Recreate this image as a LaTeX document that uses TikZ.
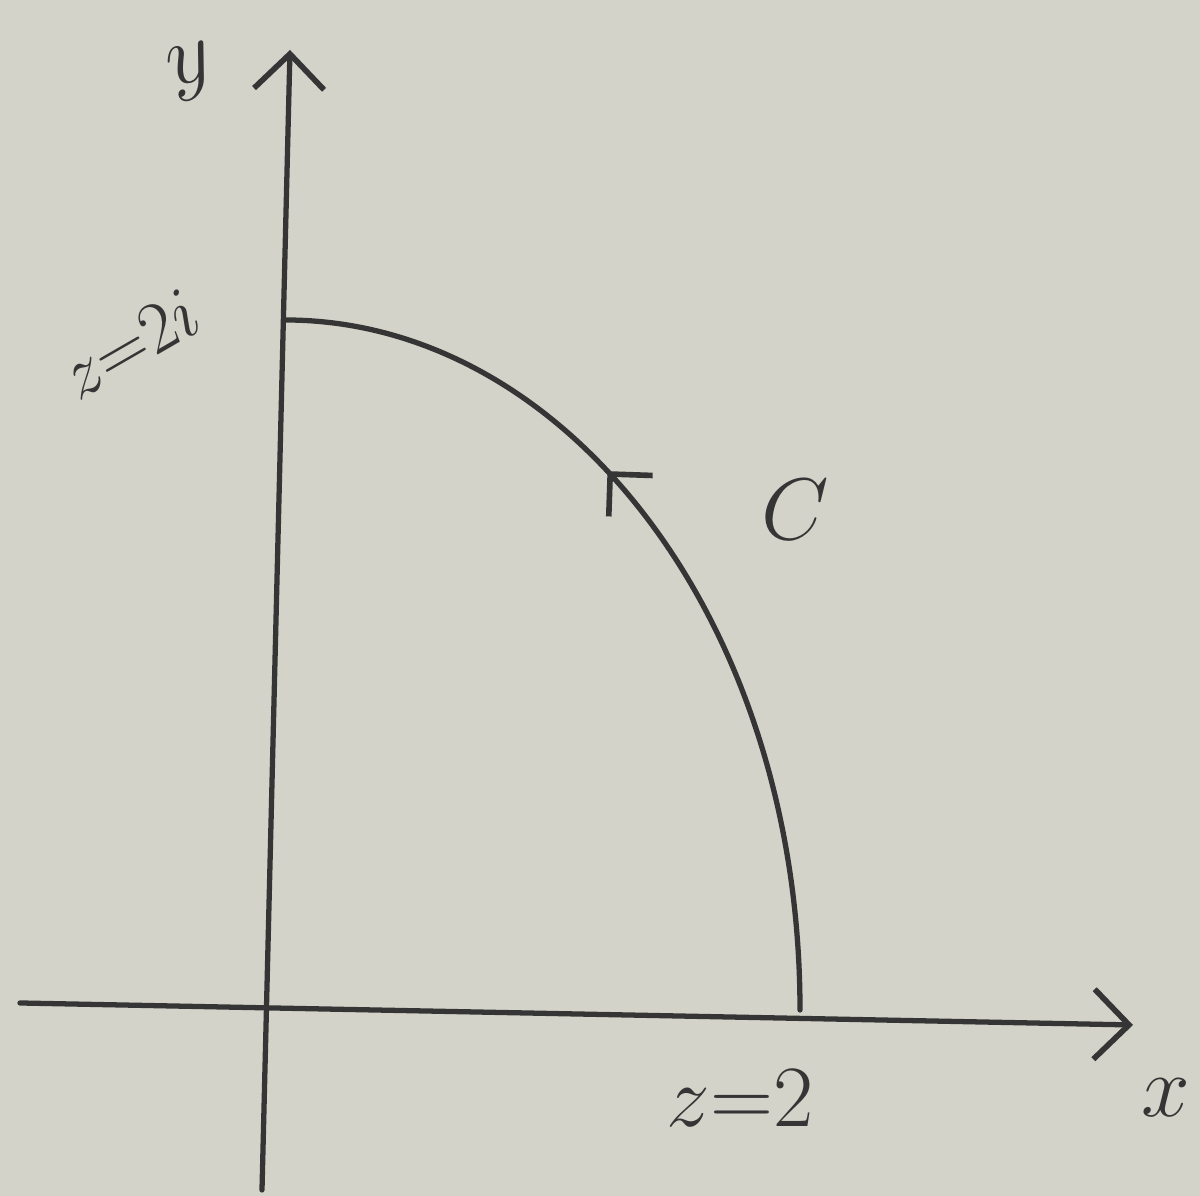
\documentclass[tikz,border=0pt]{standalone}
\usepackage{tikz}
\usetikzlibrary{arrows.meta, calc, decorations.markings}
\definecolor{papel}{HTML}{D3D3C9}
\definecolor{tinta}{HTML}{353535}

\begin{document}
\begin{tikzpicture}[>=Straight Barb, line cap=round,
        ax/.style={draw=tinta, line width=1.5pt, -{Straight Barb[length=3.5mm, width=7mm, line width=1.6pt]}},
        crv/.style={draw=tinta, line width=1.5pt},
        lbl/.style={text=tinta, inner sep=0pt, font=\fontsize{24}{28}\selectfont}]
    \useasboundingbox[fill=papel] (0,0) rectangle (12,11.96);
    % axes
    \coordinate (xl) at (0.20,1.93);
    \coordinate (xr) at (11.33,1.71);
    \coordinate (yb) at (2.62,0.06);
    \coordinate (yt) at (2.90,11.46);
    \draw[ax] (xl) -- (xr);
    \draw[ax] (yb) -- (yt);
    % contour C
    \coordinate (re) at (8.00,1.86);
    \coordinate (im) at (2.85,8.76);
    \draw[crv, postaction={decorate}, decoration={markings,
            mark=at position 0.615 with {\arrow[tinta, line width=1.6pt]{Straight Barb[length=3mm, width=6mm]}}}]
        (re) .. controls ($(re)+(0,3.9)$) and ($(im)+(2.8,0)$) .. (im);
    % labels
    \node[lbl, rotate=15] (ylab) at (1.92,11.24) {$y$};
    \node[lbl, rotate=30, font=\fontsize{21}{24}\selectfont] (zi) at (1.30,8.52) {$z{=}2i$};
    \node[lbl] (clab) at (7.95,6.86) {$C$};
    \node[lbl] (zr) at (7.40,0.98) {$z{=}2$};
    \node[lbl] (xlab) at (11.66,0.98) {$x$};
\end{tikzpicture}
\end{document}
